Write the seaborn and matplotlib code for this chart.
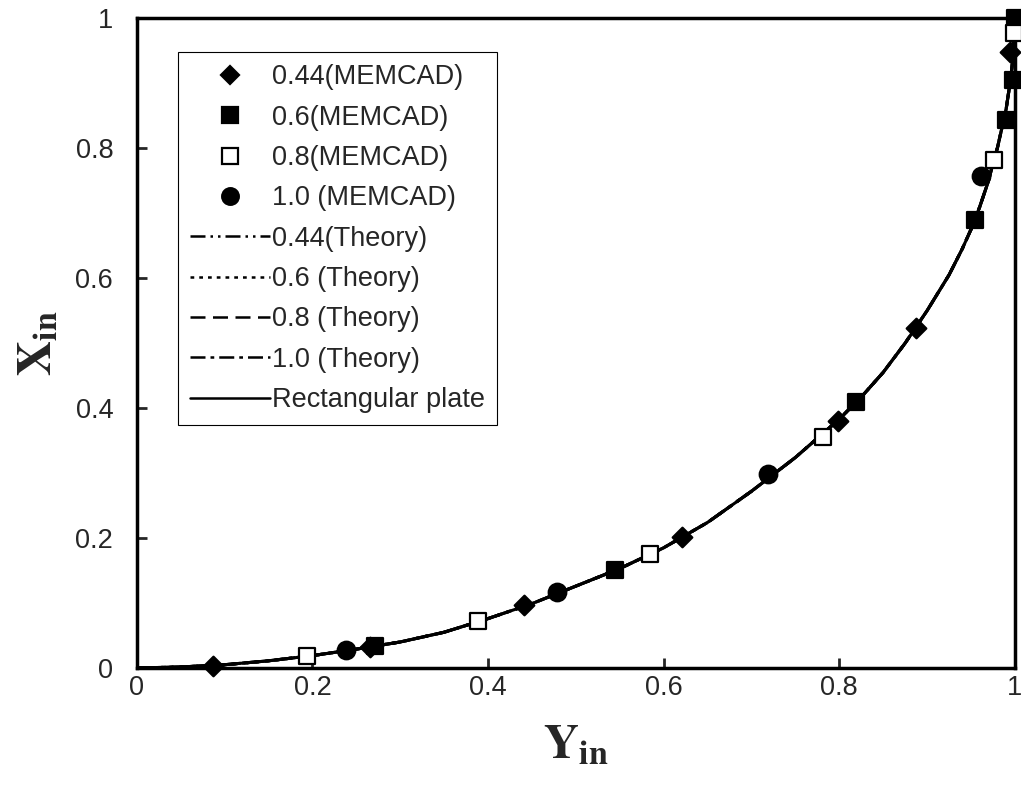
import numpy as np
import pandas as pd
import seaborn as sns
import matplotlib.pyplot as plt
from matplotlib.lines import Line2D

# MEMCAD points (Y_in, X_in)
y44 = [0.087, 0.266, 0.441, 0.621, 0.798, 0.887, 0.995]
x44 = [0.003, 0.032, 0.097, 0.202, 0.380, 0.523, 0.948]

y60 = [0.271, 0.545, 0.819, 0.955, 0.990, 0.998, 1.000]
x60 = [0.034, 0.151, 0.409, 0.689, 0.843, 0.905, 1.000]

y80 = [0.194, 0.389, 0.585, 0.781, 0.976, 0.999]
x80 = [0.018, 0.072, 0.175, 0.355, 0.782, 0.977]

y100 = [0.238, 0.479, 0.719, 0.961]
x100 = [0.028, 0.117, 0.298, 0.758]

# theory / rectangular plate curve
curve_y = [0.0, 0.05, 0.1, 0.15, 0.2, 0.25, 0.3, 0.35, 0.4, 0.45, 0.5, 0.55, 0.6,
           0.65, 0.7, 0.75, 0.8, 0.825, 0.85, 0.875, 0.9, 0.925, 0.94, 0.95, 0.96,
           0.97, 0.976, 0.98, 0.985, 0.99, 0.995, 0.998, 1.0]
curve_x = [0.0, 0.0015, 0.005, 0.011, 0.019, 0.029, 0.040, 0.055, 0.076, 0.099, 0.126, 0.153, 0.185,
           0.224, 0.272, 0.324, 0.383, 0.417, 0.455, 0.50, 0.55, 0.605, 0.645, 0.675, 0.71,
           0.75, 0.782, 0.80, 0.83, 0.86, 0.905, 0.94, 1.0]

sns.set_style('ticks')
plt.rcParams['font.family'] = ['Liberation Sans', 'DejaVu Sans']
plt.rcParams['mathtext.fontset'] = 'stix'

fig = plt.figure(figsize=(10.21, 7.99), dpi=100)
ax = fig.add_axes([0.134, 0.164, 0.860, 0.813])

curve = pd.DataFrame({'Y': curve_y, 'X': curve_x})
line_styles = [
    ('0.44(Theory)', (0, (6, 2, 1, 2, 1, 2))),
    ('0.6 (Theory)', (0, (1.5, 2))),
    ('0.8 (Theory)', (0, (6, 3))),
    ('1.0 (Theory)', (0, (6, 2, 1.5, 2))),
    ('Rectangular plate', '-'),
]
for lab, ls in line_styles:
    sns.lineplot(data=curve, x='Y', y='X', ax=ax, color='black', linewidth=2.2,
                 linestyle=ls, sort=False, zorder=2)

sets = [
    ('0.44(MEMCAD)', y44, x44, 'D', 'black', 100),
    ('0.6(MEMCAD)', y60, x60, 's', 'black', 140),
    ('0.8(MEMCAD)', y80, x80, 's', 'white', 140),
    ('1.0 (MEMCAD)', y100, x100, 'o', 'black', 160),
]
handles = []
for lab, yy, xx, m, fc, s in sets:
    sns.scatterplot(x=yy, y=xx, ax=ax, marker=m, s=s, color=fc, edgecolor='black',
                    linewidth=1.6, zorder=5, clip_on=False)
    handles.append(Line2D([], [], linestyle='none', marker=m, markersize=np.sqrt(s) * 0.95,
                          markerfacecolor=fc, markeredgecolor='black', markeredgewidth=1.6,
                          label=lab))
for lab, ls in line_styles:
    handles.append(Line2D([], [], color='black', linewidth=1.8, linestyle=ls, label=lab))

leg = ax.legend(handles=handles, loc='upper left', bbox_to_anchor=(0.047, 0.948),
                borderaxespad=0, fontsize=19.5, handlelength=2.95, handletextpad=0.05,
                labelspacing=0.53, borderpad=0.45, fancybox=False, framealpha=1)
leg.get_frame().set_edgecolor('black')
leg.get_frame().set_linewidth(0.8)

ax.set_xlim(0, 1)
ax.set_ylim(0, 1)
ticks = [0, 0.2, 0.4, 0.6, 0.8, 1]
tick_labels = ['0', '0.2', '0.4', '0.6', '0.8', '1']
ax.set_xticks(ticks)
ax.set_yticks(ticks)
ax.set_xticklabels(tick_labels)
ax.set_yticklabels(tick_labels)
ax.tick_params(direction='in', length=7, width=2, labelsize=19.5)
ax.tick_params(axis='x', pad=5)
ax.tick_params(axis='y', pad=17)
for sp in ax.spines.values():
    sp.set_visible(True)
    sp.set_linewidth(2.5)
    sp.set_color('black')

ax.set_xlabel(r'$\mathbf{Y}_{\mathbf{in}}$', fontsize=35, labelpad=16)
ax.set_ylabel(r'$\mathbf{X}_{\mathbf{in}}$', fontsize=35, labelpad=10)

fig.savefig('out.png', dpi=100)
